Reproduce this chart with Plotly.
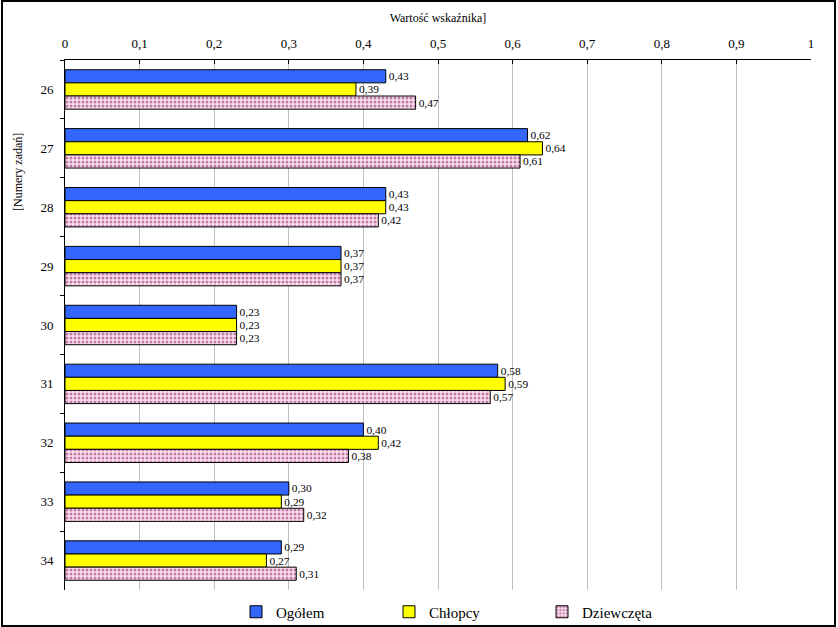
import plotly.graph_objects as go

categories = ["26", "27", "28", "29", "30", "31", "32", "33", "34"]
ogolem = [0.43, 0.62, 0.43, 0.37, 0.23, 0.58, 0.40, 0.30, 0.29]
chlopcy = [0.39, 0.64, 0.43, 0.37, 0.23, 0.59, 0.42, 0.29, 0.27]
dziewczeta = [0.47, 0.61, 0.42, 0.37, 0.23, 0.57, 0.38, 0.32, 0.31]
x_ticks = [0, 0.1, 0.2, 0.3, 0.4, 0.5, 0.6, 0.7, 0.8, 0.9, 1]
x_tick_labels = ["0", "0,1", "0,2", "0,3", "0,4", "0,5", "0,6", "0,7", "0,8", "0,9", "1"]

FONT = "Liberation Serif"

fig = go.Figure()
fig.add_trace(go.Bar(
    y=categories, x=ogolem, name="Ogółem", orientation="h",
    marker=dict(color="#3366FF", line=dict(color="black", width=1)),
    texttemplate="%{x:.2f}", textposition="outside", cliponaxis=False,
))
fig.add_trace(go.Bar(
    y=categories, x=chlopcy, name="Chłopcy", orientation="h",
    marker=dict(color="#FFFF00", line=dict(color="black", width=1)),
    texttemplate="%{x:.2f}", textposition="outside", cliponaxis=False,
))
fig.add_trace(go.Bar(
    y=categories, x=dziewczeta, name="Dziewczęta", orientation="h",
    marker=dict(color="#FBE0F0", line=dict(color="black", width=1),
                pattern=dict(shape=".", fgcolor="#8B1A5A", bgcolor="#FBE0F0",
                             size=4, solidity=0.45)),
    texttemplate="%{x:.2f}", textposition="outside", cliponaxis=False,
))

fig.update_traces(textfont=dict(family=FONT, size=13, color="black"))

fig.update_layout(
    width=838, height=627,
    margin=dict(l=65, r=27, t=60, b=37, autoexpand=False),
    paper_bgcolor="white", plot_bgcolor="white",
    font=dict(family=FONT, size=13, color="black"),
    separators=", ",
    barmode="group", bargap=0.33, bargroupgap=0.0,
    xaxis=dict(
        side="top", range=[0, 1], tickvals=x_ticks, ticktext=x_tick_labels,
        showgrid=True, gridcolor="#C0C0C0", gridwidth=1,
        showline=True, linecolor="black", linewidth=1,
        ticks="inside", ticklen=4, tickcolor="black",
        zeroline=False, ticklabelstandoff=6,
        title=dict(text="Wartość wskaźnika]", font=dict(family=FONT, size=12), standoff=10),
    ),
    yaxis=dict(
        autorange="reversed", type="category",
        showline=True, linecolor="black", linewidth=1,
        ticks="outside", ticklen=4, tickcolor="black", tickson="boundaries",
        showgrid=False, ticklabelstandoff=8,
    ),
    legend=dict(
        orientation="h", x=(236 - 65) / 746, xanchor="left",
        y=1 - (612 - 60) / 530, yanchor="middle",
        font=dict(family=FONT, size=15), entrywidth=108,
        traceorder="normal", bgcolor="rgba(0,0,0,0)",
        itemwidth=30,
    ),
    annotations=[dict(
        text="[Numery zadań]", xref="paper", yref="paper",
        x=(18 - 65) / 746, y=1 - (172 - 60) / 530,
        xanchor="center", yanchor="middle", textangle=-90,
        showarrow=False, font=dict(family=FONT, size=12),
    )],
    shapes=[dict(
        type="rect", xref="paper", yref="paper",
        x0=(2 - 65) / 746, x1=(835 - 65) / 746,
        y0=1 - (626 - 60) / 530, y1=1 + (60 - 1) / 530,
        line=dict(color="black", width=2), fillcolor="rgba(0,0,0,0)",
        layer="below",
    )],
)

fig.write_html("out.html")
